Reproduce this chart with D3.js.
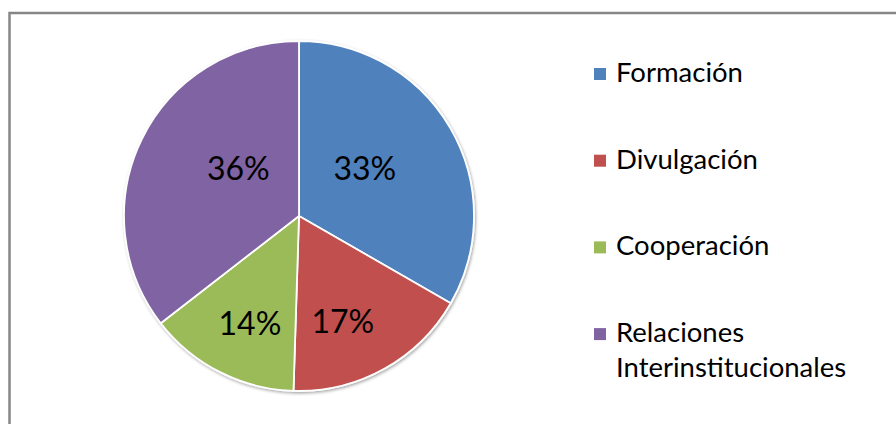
<!DOCTYPE html>
<html>
<head>
<meta charset="utf-8">
<script src="https://cdn.jsdelivr.net/npm/d3@7"></script>
<style>
  html, body { margin: 0; padding: 0; background: #fff; }
  svg { display: block; }
  text { font-family: Lato, "Open Sans", sans-serif; fill: #000; }
</style>
</head>
<body>
<svg id="chart" width="896" height="424"></svg>
<script>
// ---- data ----
const categories = ["Formación", "Divulgación", "Cooperación", "Relaciones Interinstitucionales"];
const legendLines = [["Formación"], ["Divulgación"], ["Cooperación"], ["Relaciones", "Interinstitucionales"]];
const values = [33.3, 17.2, 14.0, 35.5];
const colors = ["#4F81BD", "#C0504D", "#9BBB59", "#8064A2"];

// ---- layout ----
const W = 896, H = 424;
const cx = 299, cy = 216, R = 175;
const labelRadius = [82, 113, 117, 78];
const labelAngleShift = [-6.6, 6.3, -2.2, 12.8]; // degrees

const svg = d3.select("#chart");

// border of chart area
svg.append("rect")
  .attr("x", 9.5).attr("y", 13)
  .attr("width", 920).attr("height", 440)
  .attr("fill", "#fff")
  .attr("stroke", "#868686")
  .attr("stroke-width", 2.5);

const defs = svg.append("defs");
const f = defs.append("filter").attr("id", "shadow")
  .attr("x", "-10%").attr("y", "-10%").attr("width", "120%").attr("height", "120%");
f.append("feDropShadow").attr("dx", 1).attr("dy", 1.5)
  .attr("stdDeviation", 1.8).attr("flood-color", "#000").attr("flood-opacity", 0.35);

const total = d3.sum(values);
const pie = d3.pie().sort(null).value(d => d)(values);
const arc = d3.arc().innerRadius(0).outerRadius(R);

const g = svg.append("g").attr("transform", `translate(${cx},${cy})`);
g.append("g").attr("filter", "url(#shadow)")
  .selectAll("path").data(pie).join("path")
  .attr("d", arc)
  .attr("fill", (d, i) => colors[i])
  .attr("stroke", "#fff")
  .attr("stroke-width", 1.8)
  .attr("stroke-linejoin", "round");

function labelPos(d, i) {
  const a = (d.startAngle + d.endAngle) / 2 + labelAngleShift[i] * Math.PI / 180;
  const r = labelRadius[i];
  return [r * Math.sin(a), -r * Math.cos(a)];
}

// percent labels
g.selectAll("text.pct").data(pie).join("text")
  .attr("class", "pct")
  .attr("x", (d, i) => labelPos(d, i)[0])
  .attr("y", (d, i) => labelPos(d, i)[1])
  .attr("text-anchor", "middle")
  .attr("dominant-baseline", "central")
  .attr("font-size", 32)
  .text(d => Math.round(d.value / total * 100) + "%");

// legend
const legendX = 594, legendY0 = 82, legendStep = 86.7, lineH = 35;
const lg = svg.append("g");
categories.forEach((c, i) => {
  const y = legendY0 + i * legendStep;
  lg.append("rect")
    .attr("x", legendX).attr("y", y - 14)
    .attr("width", 12).attr("height", 12)
    .attr("fill", colors[i]);
  const t = lg.append("text")
    .attr("x", legendX + 22).attr("y", y)
    .attr("font-size", 27.5);
  legendLines[i].forEach((ln, j) => {
    t.append("tspan").attr("x", legendX + 22).attr("y", y + j * lineH).text(ln);
  });
});
</script>
</body>
</html>
